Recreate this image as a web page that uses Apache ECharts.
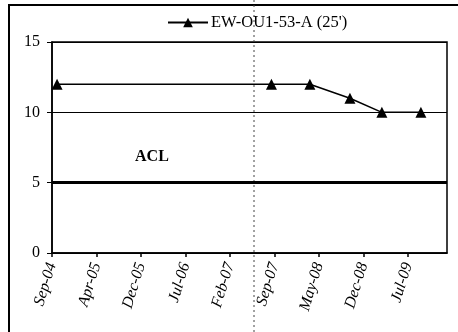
<!DOCTYPE html>
<html>
<head>
<meta charset="utf-8">
<script src="https://cdn.jsdelivr.net/npm/echarts@6/dist/echarts.min.js"></script>
<style>
  html, body { margin: 0; padding: 0; background: #fff; }
  #chart { width: 458px; height: 332px; }
</style>
</head>
<body>
<div id="chart"></div>
<script>
// axis origin and tick spacing (days)
var axisStart = '2004-09-20'
var tickDays = 220
var axisEndDays = 1953
var yTicks = [0, 5, 10, 15]

var seriesName = "EW-OU1-53-A (25')"
var sampleDates = ['2004-10-15', '2007-09-10', '2008-03-18', '2008-10-02', '2009-03-09', '2009-09-18']
var sampleValues = [12, 12, 12, 11, 10, 10]

var aclValue = 5
var aclLabel = 'ACL'

var months = ['Jan', 'Feb', 'Mar', 'Apr', 'May', 'Jun', 'Jul', 'Aug', 'Sep', 'Oct', 'Nov', 'Dec']
var DAY = 86400000
var t0 = Date.parse(axisStart + 'T00:00:00Z')

function toDays(s) {
  return Math.round((Date.parse(s + 'T00:00:00Z') - t0) / DAY)
}

function dayLabel(v) {
  if (v % tickDays !== 0) return ''
  var d = new Date(t0 + v * DAY)
  var yy = String(d.getUTCFullYear() % 100)
  if (yy.length < 2) yy = '0' + yy
  return months[d.getUTCMonth()] + '-' + yy
}

var points = sampleDates.map(function (s, i) { return [toDays(s), sampleValues[i]] })

var serif = 'Liberation Serif'
var chart = echarts.init(document.getElementById('chart'))

chart.setOption({
  animation: false,
  backgroundColor: '#fff',
  textStyle: { fontFamily: serif, color: '#000' },
  legend: {
    data: [seriesName],
    left: 162,
    top: 9,
    itemWidth: 40,
    itemHeight: 12,
    itemGap: 4,
    textStyle: { fontFamily: serif, fontSize: 16.5, color: '#000', padding: [0, 0, 0, -2] }
  },
  grid: {
    left: 52,
    right: 11,
    top: 42,
    bottom: 79,
    show: true,
    borderColor: '#000',
    borderWidth: 1.5
  },
  xAxis: {
    type: 'value',
    min: 0,
    max: axisEndDays,
    interval: tickDays,
    splitLine: { show: false },
    axisLine: { show: true, lineStyle: { color: '#000', width: 1.5 } },
    axisTick: { show: true, length: 4, lineStyle: { color: '#000', width: 1.5 } },
    axisLabel: {
      formatter: dayLabel,
      rotate: 73,
      margin: 10,
      fontFamily: serif,
      fontStyle: 'italic',
      fontSize: 16,
      color: '#000',
      showMaxLabel: false
    }
  },
  yAxis: {
    type: 'value',
    min: yTicks[0],
    max: yTicks[yTicks.length - 1],
    interval: yTicks[1] - yTicks[0],
    splitLine: { show: true, lineStyle: { color: '#000', width: 1 } },
    axisLine: { show: true, lineStyle: { color: '#000', width: 1.5 } },
    axisTick: { show: true, length: 5, lineStyle: { color: '#000', width: 1 } },
    axisLabel: { fontFamily: serif, fontSize: 16, color: '#000', margin: 12 }
  },
  series: [
    {
      name: seriesName,
      type: 'line',
      data: points,
      symbol: 'triangle',
      symbolSize: 11,
      itemStyle: { color: '#000' },
      lineStyle: { color: '#000', width: 1.5 },
      markLine: {
        silent: true,
        symbol: 'none',
        label: { show: false },
        lineStyle: { color: '#000', width: 3, type: 'solid' },
        data: [{ yAxis: aclValue }]
      },
      markPoint: {
        silent: true,
        symbol: 'circle',
        symbolSize: 0,
        label: {
          show: true,
          formatter: aclLabel,
          fontFamily: serif,
          fontWeight: 'bold',
          fontSize: 16,
          color: '#000'
        },
        data: [{ coord: [494, 6.8] }]
      }
    }
  ],
  graphic: [
    {
      type: 'rect',
      silent: true,
      shape: { x: 9, y: 5, width: 470, height: 360 },
      style: { fill: 'none', stroke: '#000', lineWidth: 2 }
    },
    {
      type: 'line',
      silent: true,
      shape: { x1: 254, y1: 0, x2: 254, y2: 332 },
      style: { stroke: '#444', lineWidth: 1, lineDash: [2, 3] }
    }
  ]
})
</script>
</body>
</html>
